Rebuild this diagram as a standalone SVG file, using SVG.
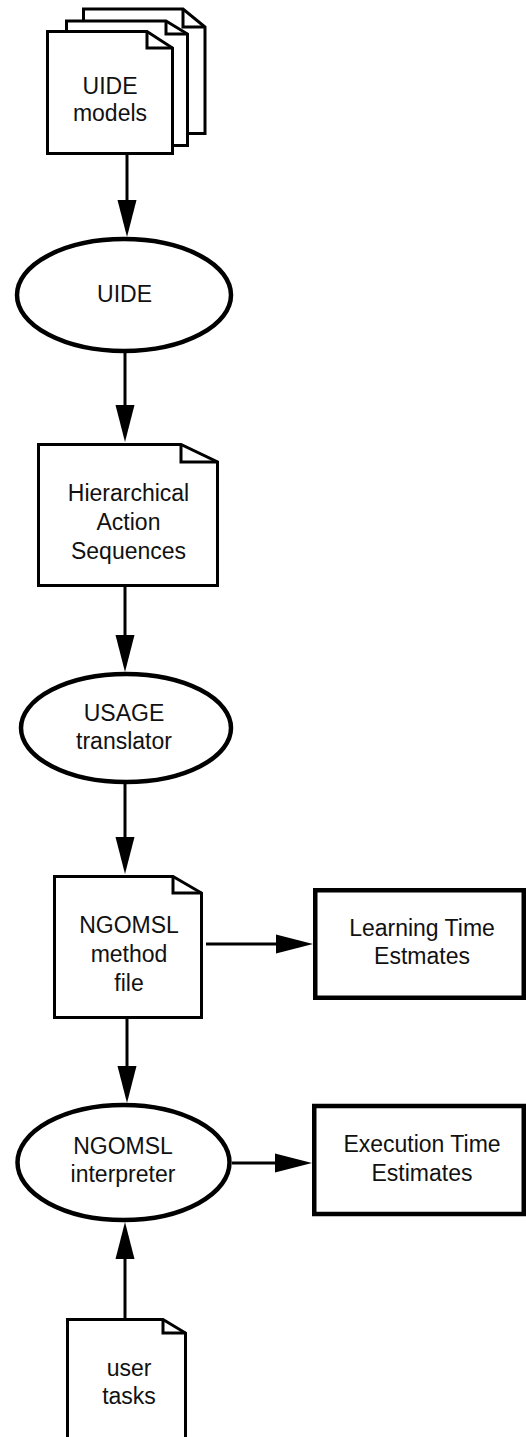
<svg xmlns="http://www.w3.org/2000/svg" width="526" height="1437" viewBox="0 0 526 1437">
  <style>
    .doc { fill: #fff; stroke: #000; stroke-width: 3; stroke-linejoin: miter; }
    .fold { fill: none; stroke: #000; stroke-width: 3; }
    .proc { fill: #fff; stroke: #000; stroke-width: 4.5; }
    .out { fill: #fff; stroke: #000; stroke-width: 4.5; }
    .lbl { font-family: "Liberation Sans", Arial, sans-serif; font-size: 23px; fill: #111; text-anchor: middle; }
    .edge { fill: none; stroke: #000; stroke-width: 3; marker-end: url(#head); }
  </style>
  <defs>
    <marker id="head" markerUnits="userSpaceOnUse" markerWidth="37" markerHeight="19" viewBox="0 -9.5 37 19" refX="0" refY="0" orient="auto" overflow="visible">
      <path d="M0,-9.5 L37,0 L0,9.5 Z" fill="#000"/>
    </marker>
  </defs>

  <!-- stacked document set -->
  <g id="uide-models">
    <path class="doc" d="M83.5,9 H183 L205,27 V133.5 H83.5 Z"/>
    <path class="fold" d="M183,9 V27 H205"/>
    <path class="doc" d="M66.5,21 H166 L187.5,34 V145.5 H66.5 Z"/>
    <path class="fold" d="M166,21 V34 H187.5"/>
    <path class="doc" d="M47.5,31.5 H147 L172.5,48 V153.5 H47.5 Z"/>
    <path class="fold" d="M147,31.5 V48 H172.5"/>
    <text class="lbl" x="110" y="94">UIDE</text>
    <text class="lbl" x="110" y="121">models</text>
  </g>

  <g id="uide">
    <ellipse class="proc" cx="124" cy="295" rx="107" ry="56"/>
    <text class="lbl" x="124.5" y="302">UIDE</text>
  </g>

  <g id="action-sequences">
    <path class="doc" d="M38.5,444.5 H181 L217.5,462 V585.5 H38.5 Z"/>
    <path class="fold" d="M181,444.5 V462 H217.5"/>
    <text class="lbl" x="128.5" y="501">Hierarchical</text>
    <text class="lbl" x="128.5" y="530">Action</text>
    <text class="lbl" x="128.5" y="559">Sequences</text>
  </g>

  <g id="usage-translator">
    <ellipse class="proc" cx="126" cy="728" rx="105" ry="54"/>
    <text class="lbl" x="124" y="721">USAGE</text>
    <text class="lbl" x="124" y="749">translator</text>
  </g>

  <g id="method-file">
    <path class="doc" d="M54.5,876.5 H173 L201.5,893 V1017.5 H54.5 Z"/>
    <path class="fold" d="M173,876.5 V893 H201.5"/>
    <text class="lbl" x="129" y="933">NGOMSL</text>
    <text class="lbl" x="129" y="962">method</text>
    <text class="lbl" x="129" y="991">file</text>
  </g>

  <g id="learning-time">
    <rect class="out" x="315.25" y="890.25" width="208.5" height="107.5"/>
    <text class="lbl" x="422" y="936">Learning Time</text>
    <text class="lbl" x="422" y="964">Estmates</text>
  </g>

  <g id="interpreter">
    <ellipse class="proc" cx="123.5" cy="1162.5" rx="106" ry="57.5"/>
    <text class="lbl" x="123" y="1154">NGOMSL</text>
    <text class="lbl" x="123" y="1182">interpreter</text>
  </g>

  <g id="execution-time">
    <rect class="out" x="314.25" y="1106" width="209.5" height="108"/>
    <text class="lbl" x="422" y="1152">Execution Time</text>
    <text class="lbl" x="422" y="1181">Estimates</text>
  </g>

  <g id="user-tasks">
    <path class="doc" d="M67.5,1319.5 H163 L185.5,1333 V1440 H67.5 Z"/>
    <path class="fold" d="M163,1319.5 V1333 H185.5"/>
    <text class="lbl" x="129" y="1376">user</text>
    <text class="lbl" x="129" y="1404">tasks</text>
  </g>

  <g id="connectors">
    <path class="edge" d="M127,155 V200"/>
    <path class="edge" d="M125,353 V405"/>
    <path class="edge" d="M125,587 V635"/>
    <path class="edge" d="M125,784 V837"/>
    <path class="edge" d="M206,944 H276"/>
    <path class="edge" d="M127,1019 V1066"/>
    <path class="edge" d="M232,1163 H275"/>
    <path class="edge" d="M125,1318 V1259"/>
  </g>
</svg>
